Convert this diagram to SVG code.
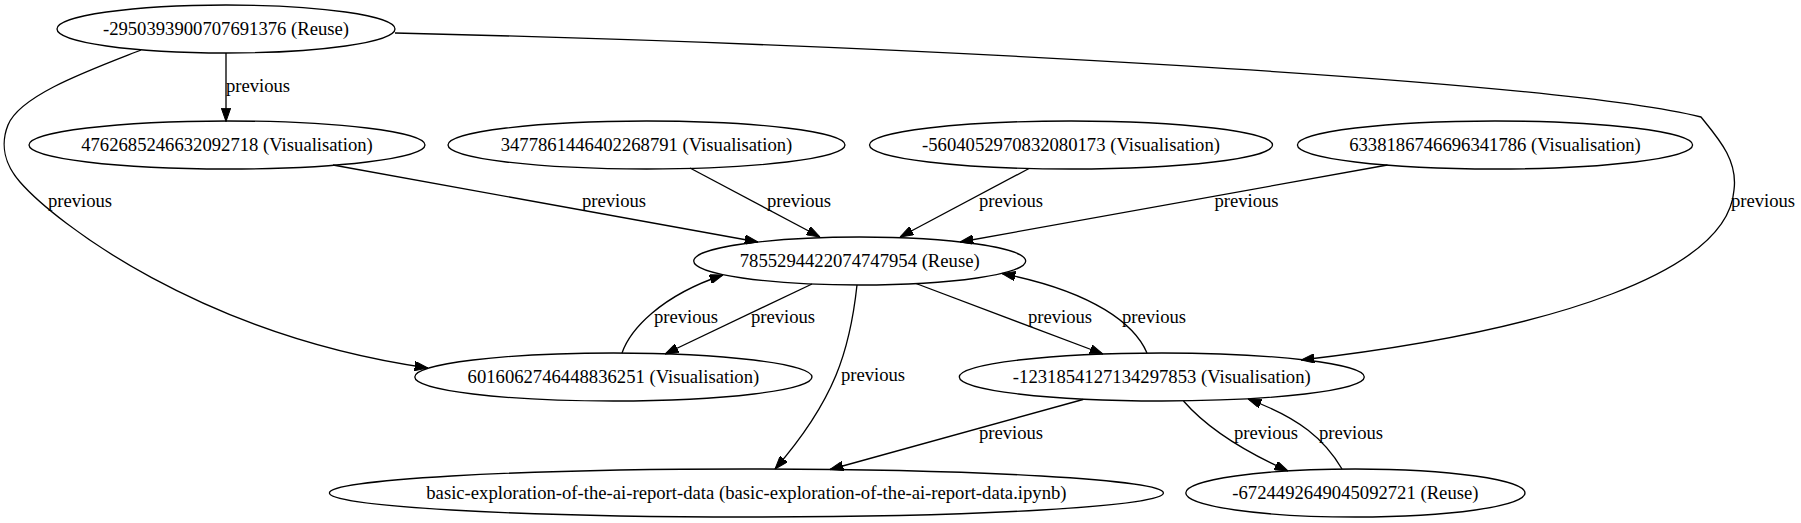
<svg xmlns="http://www.w3.org/2000/svg" width="1801" height="523" viewBox="0 0 1801 523">
<style>
.n ellipse{fill:none;stroke:#000;stroke-width:1.33}
.n text,.lbl text{font-family:"Liberation Serif","Times New Roman",serif;font-size:18.67px;fill:#000;text-anchor:middle}
.e path{fill:none;stroke:#000;stroke-width:1.33;marker-end:url(#arr)}
</style>
<defs>
<marker id="arr" markerUnits="userSpaceOnUse" viewBox="0 0 13.33 9.33" refX="13.33" refY="4.665" markerWidth="13.33" markerHeight="9.33" orient="auto">
<path d="M0,0 L13.33,4.665 L0,9.33 Z" fill="#000" stroke="#000" stroke-width="1"/>
</marker>
</defs>
<rect width="1801" height="523" fill="#fff"/>
<g id="edges" class="e">
<path d="M226,53 L226,121.5"/>
<path d="M141,50 C 90,70 20,95 8,125 C 0,145 5,165 20,182 C 55,222 200,335 428,368"/>
<path d="M395,33 C 900,45 1550,80 1701,117 C 1718,138 1738,160 1734,190 C 1728,270 1560,330 1301,360"/>
<path d="M333,165 L758,242"/>
<path d="M690,168 L820,237"/>
<path d="M1029,168.5 L900,237"/>
<path d="M1387.5,165 L960,242"/>
<path d="M622,353 C 630,330 660,296 723,275"/>
<path d="M812,284 L665,354"/>
<path d="M857,285 C 850,350 835,400 775,469"/>
<path d="M916,283.5 L1103,354"/>
<path d="M1147,353 C 1135,325 1095,292 1002,273.5"/>
<path d="M1083,399.5 L830,469.5"/>
<path d="M1183.5,401 C 1200,420 1230,445 1288,471"/>
<path d="M1342,469 C 1325,440 1300,418 1248,399"/>
</g>
<g id="edge-labels" class="lbl">
<text x="258" y="92">previous</text>
<text x="80" y="207">previous</text>
<text x="1763" y="207">previous</text>
<text x="614" y="207">previous</text>
<text x="799" y="207">previous</text>
<text x="1011" y="207">previous</text>
<text x="1246.5" y="207">previous</text>
<text x="686" y="323">previous</text>
<text x="783" y="323">previous</text>
<text x="1060" y="323">previous</text>
<text x="1154" y="323">previous</text>
<text x="873" y="381">previous</text>
<text x="1011" y="439">previous</text>
<text x="1266" y="439">previous</text>
<text x="1351" y="439">previous</text>
</g>
<g id="n_m2950393900707691376" class="n"><ellipse cx="226" cy="29" rx="169" ry="24"/><text x="226" y="35">-2950393900707691376 (Reuse)</text></g>
<g id="n_4762685246632092718" class="n"><ellipse cx="227" cy="145" rx="198" ry="24"/><text x="227" y="151">4762685246632092718 (Visualisation)</text></g>
<g id="n_3477861446402268791" class="n"><ellipse cx="646.5" cy="145" rx="198.5" ry="24"/><text x="646.5" y="151">3477861446402268791 (Visualisation)</text></g>
<g id="n_m5604052970832080173" class="n"><ellipse cx="1071" cy="145" rx="201.5" ry="24"/><text x="1071" y="151">-5604052970832080173 (Visualisation)</text></g>
<g id="n_6338186746696341786" class="n"><ellipse cx="1495" cy="145" rx="197.6" ry="24"/><text x="1495" y="151">6338186746696341786 (Visualisation)</text></g>
<g id="n_7855294422074747954" class="n"><ellipse cx="859.7" cy="261" rx="166" ry="24"/><text x="859.7" y="267">7855294422074747954 (Reuse)</text></g>
<g id="n_6016062746448836251" class="n"><ellipse cx="613.4" cy="377" rx="198.6" ry="24"/><text x="613.4" y="383">6016062746448836251 (Visualisation)</text></g>
<g id="n_m1231854127134297853" class="n"><ellipse cx="1161.8" cy="377" rx="202.5" ry="24"/><text x="1161.8" y="383">-1231854127134297853 (Visualisation)</text></g>
<g id="n_basic" class="n"><ellipse cx="746.4" cy="493" rx="417" ry="24"/><text x="746.4" y="499">basic-exploration-of-the-ai-report-data (basic-exploration-of-the-ai-report-data.ipynb)</text></g>
<g id="n_m6724492649045092721" class="n"><ellipse cx="1355.4" cy="493" rx="169.6" ry="24"/><text x="1355.4" y="499">-6724492649045092721 (Reuse)</text></g>
</svg>
